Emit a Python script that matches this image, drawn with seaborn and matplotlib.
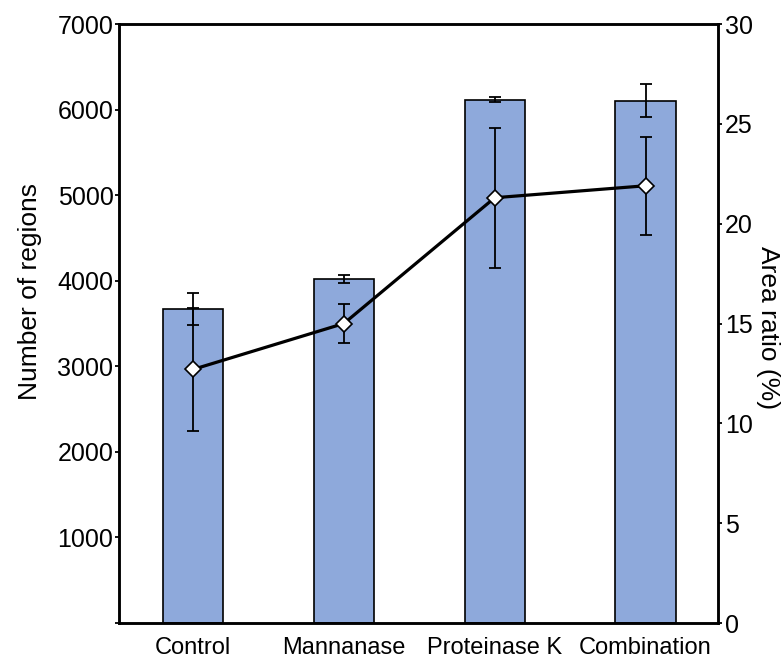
import matplotlib
matplotlib.use("Agg")
import matplotlib.pyplot as plt
import seaborn as sns
import pandas as pd
import numpy as np

sns.set_theme(style="white")
plt.rcParams["font.family"] = ["Liberation Sans", "DejaVu Sans"]
plt.rcParams.update({"text.color": "black", "axes.labelcolor": "black",
                     "xtick.color": "black", "ytick.color": "black"})

# Treatments and measurements
treatments = ["Control", "Mannanase", "Proteinase K", "Combination"]
region_counts = [3670, 4021, 6113, 6104]
region_err = [187, 45, 30, 195]
area_ratio = [12.7, 15.0, 21.3, 21.9]
area_err = [3.1, 1.0, 3.5, 2.45]

df = pd.DataFrame({"treatment": treatments, "regions": region_counts})

fig = plt.figure(figsize=(7.82, 6.62), dpi=100)
ax = fig.add_axes([0.1522, 0.0589, 0.9182 - 0.1522, 0.9637 - 0.0589])

sns.barplot(data=df, x="treatment", y="regions", ax=ax, color="#8EA9DB",
            saturation=1, width=0.40, edgecolor="black", linewidth=1.2,
            errorbar=None)
xpos = np.arange(len(treatments))
ax.errorbar(xpos, region_counts, yerr=region_err, fmt="none", ecolor="black",
            elinewidth=1.3, capsize=4.5, capthick=1.3, zorder=3)

ax.set_xlim(-0.49, 3.48)
ax.set_ylim(0, 7000)
ax.set_yticks(range(0, 7001, 1000))
ax.set_yticklabels([""] + [str(v) for v in range(1000, 7001, 1000)])
ax.set_xlabel("")
ax.set_ylabel("Number of regions", fontsize=19)
ax.yaxis.set_label_coords(-0.128, 0.554)
ax.tick_params(axis="y", labelsize=18, length=3, width=1.3, direction="out",
               left=True, pad=1)
ax.tick_params(axis="x", labelsize=17, length=0, pad=10)

ax2 = ax.twinx()
line_df = pd.DataFrame({"x": xpos, "ratio": area_ratio})
ax2.errorbar(xpos, area_ratio, yerr=area_err, fmt="none", ecolor="black",
             elinewidth=1.3, capsize=4.5, capthick=1.3, zorder=2)
sns.lineplot(data=line_df, x="x", y="ratio", ax=ax2, color="black",
             linewidth=2.3, marker="D", markersize=8.5,
             markerfacecolor="white", markeredgecolor="black",
             markeredgewidth=1.2, zorder=3)
ax2.set_ylim(0, 30)
ax2.set_yticks(range(0, 31, 5))
ax2.set_xlim(-0.49, 3.48)
ax2.set_ylabel("Area ratio (%)", fontsize=19, rotation=270, va="bottom")
ax2.yaxis.set_label_coords(1.064, 0.494)
ax2.set_xlabel("")
ax2.tick_params(axis="y", labelsize=18, length=3, width=1.3, direction="out",
                right=True, pad=2)

for a in (ax, ax2):
    for s in a.spines.values():
        s.set_linewidth(1.8)
        s.set_color("black")

fig.savefig("out.png", dpi=100)
